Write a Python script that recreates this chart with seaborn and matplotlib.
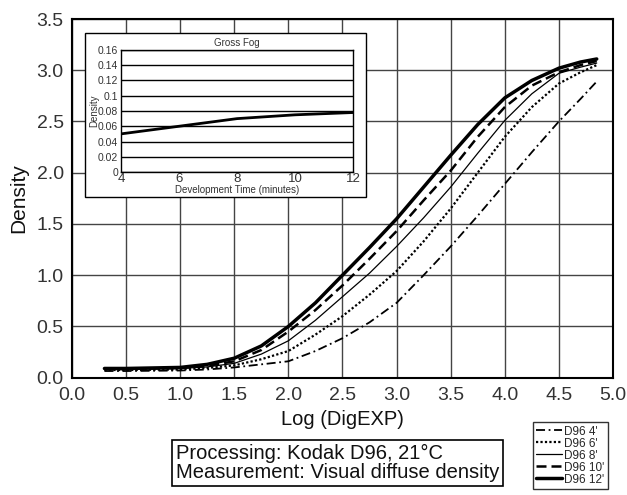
import pandas as pd
import seaborn as sns
import matplotlib.pyplot as plt
from matplotlib.patches import Rectangle

# characteristic curves
log_exp = [0.3, 0.5, 1.0, 1.25, 1.5, 1.75, 2.0, 2.25, 2.5, 2.75, 3.0, 3.25, 3.5, 3.75, 4.0, 4.25, 4.5, 4.7, 4.85]
d96_4 = [0.065, 0.065, 0.07, 0.08, 0.10, 0.13, 0.16, 0.26, 0.385, 0.54, 0.73, 1.00, 1.28, 1.58, 1.89, 2.20, 2.50, 2.72, 2.89]
d96_6 = [0.075, 0.075, 0.08, 0.095, 0.12, 0.18, 0.26, 0.42, 0.60, 0.81, 1.04, 1.33, 1.65, 2.00, 2.35, 2.64, 2.87, 2.98, 3.05]
d96_8 = [0.08, 0.08, 0.09, 0.105, 0.14, 0.23, 0.36, 0.56, 0.79, 1.02, 1.28, 1.56, 1.86, 2.19, 2.51, 2.77, 2.97, 3.03, 3.07]
d96_10 = [0.085, 0.085, 0.095, 0.115, 0.16, 0.27, 0.45, 0.66, 0.90, 1.16, 1.43, 1.73, 2.02, 2.35, 2.64, 2.85, 2.98, 3.05, 3.09]
d96_12 = [0.09, 0.09, 0.10, 0.13, 0.19, 0.31, 0.50, 0.73, 1.00, 1.27, 1.55, 1.86, 2.17, 2.47, 2.73, 2.90, 3.02, 3.08, 3.11]

series_names = ["D96 4'", "D96 6'", "D96 8'", "D96 10'", "D96 12'"]

# gross fog inset
dev_time = [4, 6, 8, 10, 12]
gross_fog = [0.050, 0.060, 0.070, 0.075, 0.078]

sns.set_style("white")
plt.rcParams['font.family'] = ['Liberation Sans', 'DejaVu Sans']

fig = plt.figure(figsize=(6.27, 4.95), dpi=100)
ax = fig.add_axes([0.1148, 0.2370, 0.8628, 0.7246])

styles = [
    dict(linestyle=(0, (5, 2, 1, 2)), linewidth=1.3),
    dict(linestyle=(0, (1, 1)), linewidth=1.6),
    dict(linestyle='-', linewidth=0.9),
    dict(linestyle=(0, (4, 2)), linewidth=1.8),
    dict(linestyle='-', linewidth=2.5),
]
for name, vals, st in zip(series_names, [d96_4, d96_6, d96_8, d96_10, d96_12], styles):
    df = pd.DataFrame({'x': log_exp, 'y': vals})
    sns.lineplot(data=df, x='x', y='y', ax=ax, color='black', label=name, **st)

ax.set_xlim(0, 5)
ax.set_ylim(0, 3.5)
ax.set_xticks([i * 0.5 for i in range(11)])
ax.set_yticks([i * 0.5 for i in range(8)])
ax.xaxis.set_major_formatter(lambda v, p: f"{v:.1f}")
ax.yaxis.set_major_formatter(lambda v, p: f"{v:.1f}")
ax.tick_params(labelsize=14, colors='#333333', length=0)
ax.tick_params(axis='x', pad=7)
ax.tick_params(axis='y', pad=6)
ax.grid(True, color='#444444', linewidth=1.0)
for s in ax.spines.values():
    s.set_color('black')
    s.set_linewidth(1.5)
ax.set_xlabel('Log (DigEXP)', fontsize=14.5, color='#111111', labelpad=4)
ax.set_ylabel('Density', fontsize=15, color='#111111', labelpad=6)

leg = ax.legend(loc='upper left', bbox_to_anchor=(0.850, 0.1475), bbox_transform=fig.transFigure,
                fontsize=8.5, frameon=True, fancybox=False, edgecolor='black',
                handlelength=2.2, handletextpad=0.15, borderpad=0.3, labelspacing=0.0,
                borderaxespad=0)
leg.get_frame().set_linewidth(1.0)

fig.text(0.2807, 0.103, "Processing: Kodak D96, 21°C\nMeasurement: Visual diffuse density",
         fontsize=14.5, color='#111111', ha='left', va='top', linespacing=1.0,
         bbox=dict(boxstyle='square,pad=0.2', facecolor='white', edgecolor='black', linewidth=1.2))

# inset frame
fig.patches.append(Rectangle((0.136, 0.602), 0.447, 0.331, transform=fig.transFigure,
                             facecolor='white', edgecolor='black', linewidth=1.0, zorder=1))

ins = fig.add_axes([0.193, 0.6525, 0.370, 0.2465], zorder=3)
sns.lineplot(x=dev_time, y=gross_fog, ax=ins, color='black', linewidth=2.0)
ins.set_xlim(4, 12)
ins.set_ylim(0, 0.16)
ins.set_xticks([4, 6, 8, 10, 12])
ins.set_yticks([0, 0.02, 0.04, 0.06, 0.08, 0.1, 0.12, 0.14, 0.16])
ins.set_yticklabels(['0', '0.02', '0.04', '0.06', '0.08', '0.1', '0.12', '0.14', '0.16'])
ins.tick_params(axis='y', labelsize=7.5, colors='#333333', length=0, pad=2)
ins.tick_params(axis='x', labelsize=9.5, colors='#333333', direction='in', length=3, pad=1)
ins.yaxis.grid(True, color='black', linewidth=1.0)
ins.xaxis.grid(False)
for s in ins.spines.values():
    s.set_color('black')
    s.set_linewidth(1.0)
ins.set_title('Gross Fog', fontsize=7, color='#333333', pad=3)
ins.set_xlabel('Development Time (minutes)', fontsize=7, color='#333333', labelpad=0)
ins.set_ylabel('Density', fontsize=7, color='#333333', labelpad=-1)

fig.savefig('out.png', dpi=100)
